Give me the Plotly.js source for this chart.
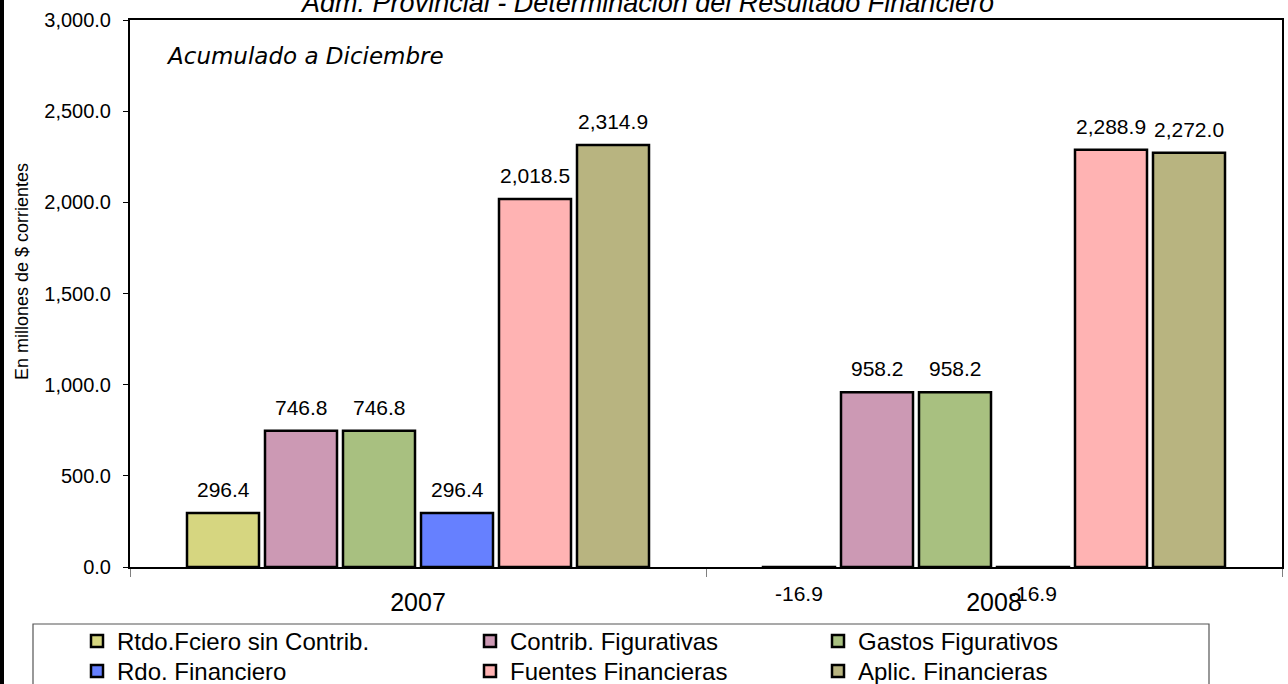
<!DOCTYPE html>
<html><head><meta charset="utf-8">
<script src="https://cdn.plot.ly/plotly-3.0.1.min.js"></script>
<style>html,body{margin:0;padding:0;background:#fff}#chart{width:1288px;height:684px}</style>
</head><body><div id="chart"></div>
<script>
const categories = ['2007', '2008'];
const seriesNames = ['Rtdo.Fciero sin Contrib.', 'Contrib. Figurativas', 'Gastos Figurativos', 'Rdo. Financiero', 'Fuentes Financieras', 'Aplic. Financieras'];
const rtdoSinContrib = [296.4, -16.9];
const contribFigurativas = [746.8, 958.2];
const gastosFigurativos = [746.8, 958.2];
const rdoFinanciero = [296.4, -16.9];
const fuentesFinancieras = [2018.5, 2288.9];
const aplicFinancieras = [2314.9, 2272.0];
const seriesValues = [rtdoSinContrib, contribFigurativas, gastosFigurativos, rdoFinanciero, fuentesFinancieras, aplicFinancieras];
const colors = ['#D6D680', '#CC99B4', '#A8C080', '#6680FF', '#FFB3B3', '#B8B480'];
const legendIds = ['legend', 'legend2', 'legend3', 'legend4', 'legend5', 'legend6'];

const fmt = v => v.toLocaleString('en-US', {minimumFractionDigits: 1, maximumFractionDigits: 1});
const ARIAL = 'Arial, "Liberation Sans", sans-serif';

const traces = seriesNames.map((name, i) => ({
  type: 'bar',
  name: name,
  x: categories,
  y: seriesValues[i],
  marker: {color: colors[i], line: {color: '#000', width: 2.5}},
  legend: legendIds[i],
  showlegend: true,
  hoverinfo: 'skip'
}));

const W = 1152, H = 547, L = 130, T = 20;
const px = v => (v - L) / W;
const py = v => (T + H - v) / H;

const legendFont = {family: ARIAL, size: 24, color: '#000'};
const colX = [77, 470, 818];
const rowY = [619, 649];
function leg(col, row) {
  return {x: px(colX[col]), y: py(rowY[row]), xanchor: 'left', yanchor: 'top', visible: true,
    bgcolor: 'rgba(0,0,0,0)', borderwidth: 0, font: legendFont, orientation: 'v'};
}

const layout = {
  width: 1288, height: 684,
  showlegend: true,
  margin: {l: L, r: 6, t: T, b: 117, autoexpand: false},
  paper_bgcolor: '#fff', plot_bgcolor: '#fff',
  barmode: 'group', bargap: 0.1875, bargroupgap: 0.077,
  title: {text: 'Adm. Provincial - Determinación del Resultado Financiero',
    font: {family: ARIAL, size: 27, style: 'italic', color: '#000'},
    x: px(648), xref: 'paper', xanchor: 'center', y: 1 - 3 / 684, yref: 'container', yanchor: 'middle'},
  font: {family: ARIAL, color: '#000'},
  xaxis: {type: 'category', showline: true, linecolor: '#000', linewidth: 2, mirror: true,
    ticks: 'outside', tickson: 'boundaries', ticklen: 8, tickcolor: '#808080', tickwidth: 1,
    tickfont: {size: 25, color: '#000'}, ticklabelstandoff: 12, showgrid: false, zeroline: false},
  yaxis: {range: [0, 3000], dtick: 500, tickformat: ',.1f', showline: true, linecolor: '#000', linewidth: 2, mirror: true,
    ticks: 'outside', ticklen: 5, tickcolor: '#000', tickwidth: 1, tickfont: {size: 20, color: '#000'},
    ticklabelstandoff: 8, showgrid: false, zeroline: false},
  legend: leg(0, 0), legend2: leg(1, 0), legend3: leg(2, 0),
  legend4: leg(0, 1), legend5: leg(1, 1), legend6: leg(2, 1),
  shapes: [
    {type: 'rect', xref: 'paper', yref: 'paper', x0: px(33), x1: px(1209), y0: py(624), y1: py(700),
      line: {color: '#555', width: 1.2}, fillcolor: 'rgba(0,0,0,0)'},
    {type: 'rect', xref: 'paper', yref: 'paper', x0: px(-5), x1: px(4), y0: py(-5), y1: py(700),
      line: {width: 0}, fillcolor: '#000'}
  ],
  annotations: [
    {text: 'Acumulado a Diciembre', xref: 'paper', yref: 'paper', x: px(164), y: py(56), xanchor: 'left', yanchor: 'middle',
      showarrow: false, font: {family: '"DejaVu Sans", sans-serif', size: 23, style: 'italic', color: '#000'}},
    {text: 'En millones de $ corrientes', xref: 'paper', yref: 'paper', x: px(22), y: py(272), textangle: -90,
      xanchor: 'center', yanchor: 'middle', showarrow: false, font: {family: ARIAL, size: 18, color: '#000'}}
  ]
};

const gd = document.getElementById('chart');
Plotly.newPlot(gd, traces, layout, {staticPlot: true}).then(() => {
  const xa = gd._fullLayout.xaxis, ya = gd._fullLayout.yaxis;
  const anns = layout.annotations.slice();
  gd.calcdata.forEach((cdTrace, i) => {
    cdTrace.forEach((cd, j) => {
      const v = seriesValues[i][j];
      anns.push({
        text: fmt(v), showarrow: false, xref: 'paper', yref: 'paper',
        x: xa.c2p(cd.x) / xa._length, y: 1 - ya.c2p(v) / ya._length,
        xanchor: 'center', yanchor: v >= 0 ? 'bottom' : 'top', yshift: v >= 0 ? 10 : -10,
        font: {family: ARIAL, size: 21, color: '#000'}
      });
    });
  });
  return Plotly.relayout(gd, {annotations: anns});
});
</script>
</body></html>
